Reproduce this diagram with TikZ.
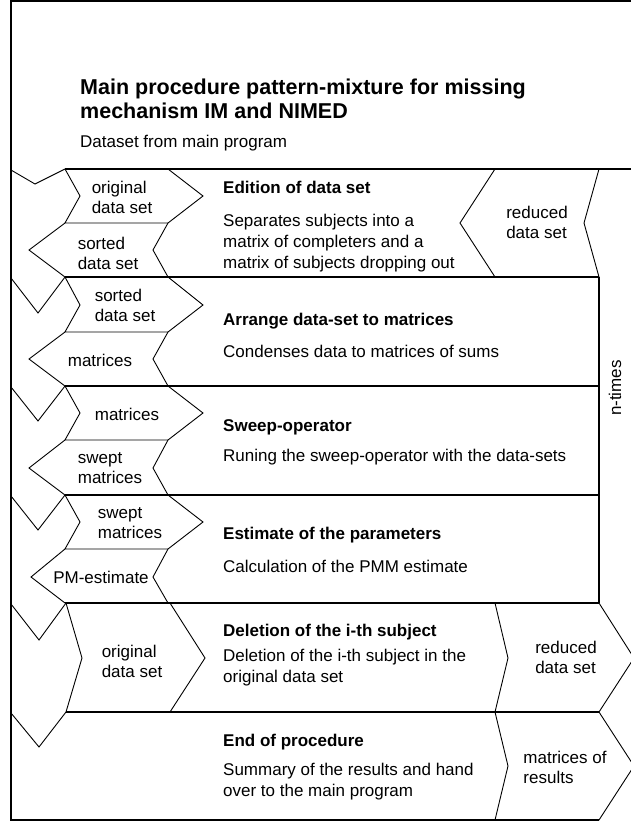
\documentclass[tikz,border=0pt]{standalone}
\usepackage{fontspec}
\setmainfont{Liberation Sans}
\usetikzlibrary{positioning}
\tikzset{%
rule/.style={draw,line width=1.1pt},
edge/.style={draw,line width=0.9pt,line join=miter},
heading/.style={font=\fontsize{21.5}{24}\selectfont\bfseries,align=left,anchor=west,inner sep=0},
subheading/.style={font=\fontsize{17}{21}\selectfont,anchor=west,inner sep=0},
steptitle/.style={font=\fontsize{17}{21}\selectfont\bfseries,anchor=west,inner sep=0},
stepdesc/.style={font=\fontsize{17}{21}\selectfont,align=left,anchor=west,inner sep=0},
datalabel/.style={font=\fontsize{17}{20}\selectfont,align=left,inner sep=0}
}

\begin{document}
\begin{tikzpicture}[x=1pt,y=-1pt]
    \useasboundingbox (0,0) rectangle (631,824);

    \draw[rule] (631,1) -- (11,1) -- (11,820) -- (599,820);
    \draw[rule] (65,169) -- (631,169);
    \draw[rule] (599,277) -- (599,603);
    \draw[rule] (65,277) -- (599,277);
    \draw[rule] (65,386) -- (599,386);
    \draw[rule] (65,495) -- (599,495);
    \draw[rule] (65,603) -- (599,603);
    \draw[rule] (66,712) -- (599,712);

    \draw[edge] (11,170) -- (35,184) -- (65,169);
    \draw[edge] (11,278) -- (38,313) -- (65,277);
    \draw[edge] (11,387) -- (38,421) -- (65,386);
    \draw[edge] (11,496) -- (38,530) -- (65,495);
    \draw[edge] (11,604) -- (39,640) -- (66,603);
    \draw[edge] (11,713) -- (39,747) -- (66,712);

    \node[heading] (title) at (80,99) {Main procedure pattern-mixture for missing\\mechanism IM and NIMED};
    \node[subheading] (input) at (80,143) {Dataset from main program};

    % edition
    \draw[edge] (65,169) -- (80,196) -- (65,223) -- (168,223) -- (203,196) -- (168,169);
    \draw[edge] (65,223) -- (29,250) -- (65,277) -- (168,277) -- (153,250) -- (168,223);
    \draw[edge] (495,169) -- (460,223) -- (495,277) -- (599,277) -- (584,223) -- (599,169);
    \node[datalabel] (orig1) at (122,197) {original\\data set};
    \node[datalabel] (sort1) at (108,253) {sorted\\data set};
    \node[datalabel] (red1) at (537,222) {reduced\\data set};
    \node[steptitle] (edit) at (223,187) {Edition of data set};
    \node[stepdesc] (editd) at (223,243) {Separates subjects into a\\matrix of completers and a\\matrix of subjects dropping out};

    % arrange
    \draw[edge] (65,277) -- (80,305) -- (65,332) -- (168,332) -- (203,305) -- (168,277);
    \draw[edge] (65,332) -- (29,359) -- (65,386) -- (168,386) -- (153,359) -- (168,332);
    \node[datalabel] (sort2) at (125,305) {sorted\\data set};
    \node[datalabel] (mat2) at (100,360) {matrices};
    \node[steptitle] (arrange) at (223,321) {Arrange data-set to matrices};
    \node[stepdesc] (arranged) at (223,351) {Condenses data to matrices of sums};

    % sweep
    \draw[edge] (65,386) -- (80,413) -- (65,440) -- (168,440) -- (203,413) -- (168,386);
    \draw[edge] (65,440) -- (29,468) -- (65,495) -- (168,495) -- (153,468) -- (168,440);
    \node[datalabel] (mat3) at (127,414) {matrices};
    \node[datalabel] (swept3) at (110,468) {swept\\matrices};
    \node[steptitle] (sweep) at (223,427) {Sweep-operator};
    \node[stepdesc] (sweepd) at (223,457) {Runing the sweep-operator with the data-sets};

    % estimate
    \draw[edge] (65,495) -- (80,522) -- (65,549) -- (168,549) -- (203,522) -- (168,495);
    \draw[edge] (65,549) -- (31,577) -- (65,603) -- (168,603) -- (153,577) -- (168,549);
    \node[datalabel] (swept4) at (130,523) {swept\\matrices};
    \node[datalabel] (pme) at (101,577) {PM-estimate};
    \node[steptitle] (estim) at (223,535) {Estimate of the parameters};
    \node[stepdesc] (estimd) at (223,566) {Calculation of the PMM estimate};

    % deletion
    \draw[edge] (66,603) -- (82,658) -- (66,712) -- (170,712) -- (205,658) -- (170,603);
    \draw[edge] (495,603) -- (508,658) -- (495,712) -- (599,712) -- (634,658) -- (599,603);
    \node[datalabel] (orig5) at (132,661) {original\\data set};
    \node[datalabel] (red5) at (566,657) {reduced\\data set};
    \node[steptitle] (delete) at (223,632) {Deletion of the i-th subject};
    \node[stepdesc] (deleted) at (223,668) {Deletion of the i-th subject in the\\original data set};

    % end
    \draw[edge] (495,712) -- (508,766) -- (495,820) -- (599,820) -- (634,766) -- (599,712);
    \node[datalabel] (res6) at (565,767) {matrices of\\results};
    \node[steptitle] (finish) at (223,742) {End of procedure};
    \node[stepdesc] (finishd) at (223,782) {Summary of the results and hand\\over to the main program};

    \node[subheading,rotate=90,anchor=center] (loop) at (615,388) {n-times};

  \end{tikzpicture}
\end{document}
